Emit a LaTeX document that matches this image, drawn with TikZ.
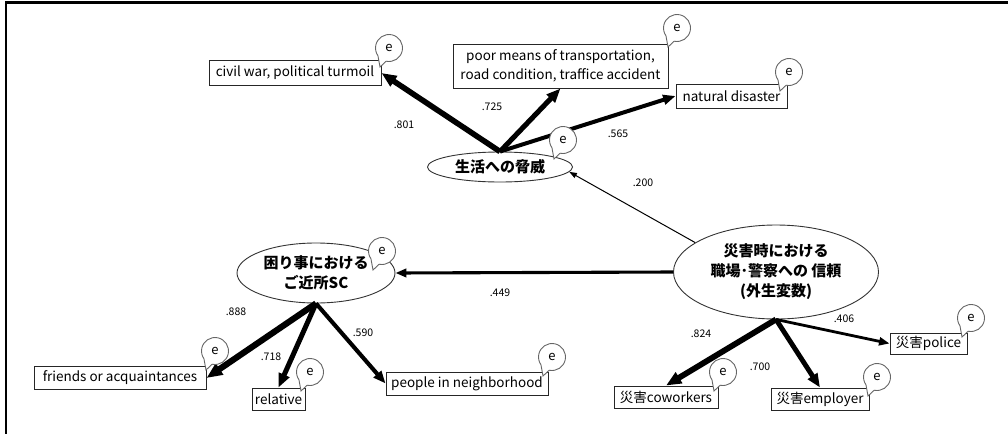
\documentclass[tikz,border=0pt]{standalone}
\usepackage{fontspec}
\setmainfont{Noto Sans CJK JP}
\usetikzlibrary{arrows.meta,shapes.geometric,calc}

\tikzset{
  obs/.style={draw=black!85, line width=0.9pt, fill=white, rectangle, inner sep=0pt,
    font=\fontsize{13.5}{19.5}\selectfont, align=center},
  lat/.style={draw=black!80, line width=0.9pt, fill=white, ellipse, inner sep=0pt,
    font=\fontsize{15}{20}\selectfont\bfseries, align=center},
  loading/.style={draw=black, line width=#1,
    -{Triangle[length=6pt 1.6, width=4pt 1.4]}},
  coef/.style={font=\fontsize{10.5}{11}\selectfont, inner sep=0pt},
  errc/.style={inner sep=0pt, font=\fontsize{13}{13}\selectfont},
  errline/.style={draw=black!60, line width=0.9pt, fill=white}
}

% error term: speech-bubble circle with a tail to the lower left
\newcommand{\errbub}[2]{%
  \filldraw[errline] (#2) ++(258:13.5pt)
    arc[start angle=258, end angle=575, radius=13.5pt]
    -- ($(#2)+(-9,-19)$) -- cycle;
  \node[errc] (#1) at (#2) {e};
}

\begin{document}
\begin{tikzpicture}[x=1pt, y=1pt]
\useasboundingbox (0,0) rectangle (1008,-434);

% frame
\draw[line width=2.5pt] (1008,-2.3) -- (6,-2.3) -- (6,-434);

% latent variables
\node[lat, minimum width=145pt, minimum height=30pt] (threat) at (500,-167) {生活への脅威};
\node[lat, minimum width=158pt, minimum height=60pt] (komari) at (316,-273) {困り事における\\ご近所SC};
\node[lat, minimum width=205pt, minimum height=94pt] (trust) at (776,-272) {災害時における\\職場･警察への 信頼\\(外生変数)};

% observed variables
\node[obs, minimum width=172pt, minimum height=25pt] (civil) at (295,-73) {civil war, political turmoil};
\node[obs, minimum width=215pt, minimum height=44pt] (poor) at (560.5,-66) {poor means of transportation,\\road condition, traffice accident};
\node[obs, minimum width=111pt, minimum height=24pt] (natural) at (731.5,-96) {natural disaster};
\node[obs, minimum width=172pt, minimum height=23pt] (friends) at (120,-378) {friends or acquaintances};
\node[obs, minimum width=53pt, minimum height=22pt] (relative) at (278.5,-399) {relative};
\node[obs, minimum width=162pt, minimum height=23pt] (people) at (467,-383.5) {people in neighborhood};
\node[obs, minimum width=104pt, minimum height=22pt] (cowork) at (666,-397) {災害coworkers};
\node[obs, minimum width=98pt, minimum height=22pt] (employ) at (820,-399) {災害employer};
\node[obs, minimum width=77pt, minimum height=21pt] (police) at (928.5,-343.5) {災害police};

% paths
\draw[loading=5.6pt] (threat.north) -- (civil.east);
\draw[loading=5.1pt] (threat.north) -- (poor.south);
\draw[loading=4pt] (threat.north) -- (natural.west);
\draw[loading=1pt] (trust.160) -- (threat.-4);
\draw[loading=3.1pt] (trust.west) -- (komari.east);
\draw[loading=6.2pt] (komari.south) -- (friends.east);
\draw[loading=5pt] (komari.south) -- (relative.north);
\draw[loading=4.1pt] (komari.south) -- (people.west);
\draw[loading=5.8pt] (trust.south) -- (cowork.north);
\draw[loading=4.9pt] (trust.south) -- (employ.north);
\draw[loading=2.8pt] (trust.south) -- (police.west);

% error terms
\errbub{eCivil}{389,-48}
\errbub{ePoor}{677,-28}
\errbub{eNat}{789,-72}
\errbub{eThreat}{563,-140}
\errbub{eKomari}{382,-251}
\errbub{eFriends}{215,-351}
\errbub{eRelative}{310,-372}
\errbub{ePeople}{552,-357}
\errbub{eCowork}{723,-372}
\errbub{eEmploy}{877,-377}
\errbub{ePolice}{971,-318}

% coefficients
\node[coef] (c801) at (404,-125) {.801};
\node[coef] (c725) at (492,-107) {.725};
\node[coef] (c565) at (618,-134) {.565};
\node[coef] (c200) at (643,-183) {.200};
\node[coef] (c449) at (500,-293) {.449};
\node[coef] (c888) at (236,-312) {.888};
\node[coef] (c718) at (271,-357) {.718};
\node[coef] (c590) at (363,-333) {.590};
\node[coef] (c824) at (701,-334) {.824};
\node[coef] (c700) at (760,-367) {.700};
\node[coef] (c406) at (844,-319) {.406};
\end{tikzpicture}
\end{document}
